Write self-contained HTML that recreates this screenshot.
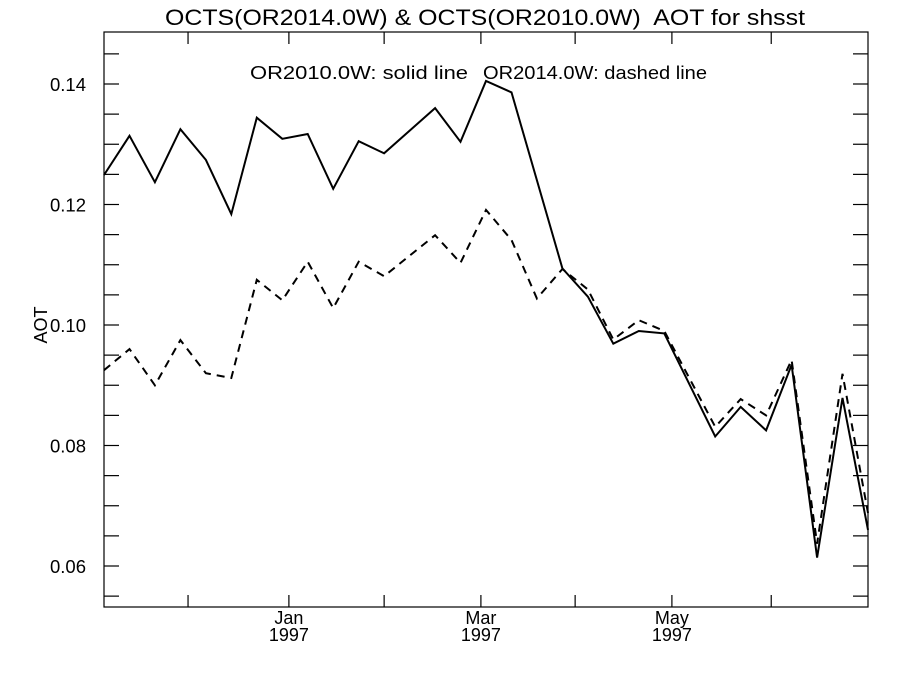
<!DOCTYPE html>
<html><head><meta charset="utf-8"><style>
body{margin:0;background:#fff;}
svg{display:block;font-family:"Liberation Sans",sans-serif;}
</style></head><body>
<svg id="chart" width="900" height="675">
<text x="165" y="25" font-size="22" textLength="640" lengthAdjust="spacingAndGlyphs" xml:space="preserve">OCTS(OR2014.0W) &amp; OCTS(OR2010.0W)  AOT for shsst</text>
<text x="250" y="79" font-size="18" textLength="218" lengthAdjust="spacingAndGlyphs">OR2010.0W: solid line</text>
<text x="483" y="79" font-size="18" textLength="224" lengthAdjust="spacingAndGlyphs">OR2014.0W: dashed line</text>
<text transform="translate(47,325) rotate(-90)" font-size="18" text-anchor="middle">AOT</text>
<rect x="104" y="32" width="764" height="575" fill="none" stroke="#000" stroke-width="1.2"/>
<g id="axes"></g><g id="series"></g>
</svg>
<script>
const solidIdx=[0,1,2,3,4,5,6,7,8,9,10,11,13,14,15,16,18,19,20,21,22,24,25,26,27,28,29,30];
const solidVals=[0.1249,0.1314,0.1237,0.1325,0.1274,0.1184,0.1344,0.1309,0.1317,0.1226,0.1305,0.1285,0.1360,0.1304,0.1405,0.1386,0.1094,0.1047,0.0969,0.0990,0.0986,0.0815,0.0864,0.0825,0.0934,0.0614,0.0879,0.0660];
const dashIdx=[0,1,2,3,4,5,6,7,8,9,10,11,13,14,15,16,17,18,19,20,21,22,24,25,26,27,28,29,30];
const dashVals=[0.0925,0.0960,0.0900,0.0975,0.0920,0.0912,0.1075,0.1041,0.1105,0.1028,0.1105,0.1081,0.1149,0.1103,0.1191,0.1141,0.1044,0.1093,0.1059,0.0976,0.1008,0.0990,0.0831,0.0877,0.0850,0.0942,0.0637,0.0919,0.0688];
const yTickVals=[0.06,0.08,0.10,0.12,0.14];
const yTickLabels=["0.06","0.08","0.10","0.12","0.14"];
const monthTicks=[3.3,7.26,11.0,14.8,18.5,22.3,26.2];
const monthLabels=["","Jan","","Mar","","May",""];
const yearLabels=["","1997","","1997","","1997",""];
const NS="http://www.w3.org/2000/svg";
const X=i=>104+i*(764/30);
const Y=v=>84+(0.14-v)/0.02*120.5;
const axes=document.getElementById('axes'),series=document.getElementById('series');
function mk(t,a,p){const e=document.createElementNS(NS,t);for(const k in a)e.setAttribute(k,a[k]);p.appendChild(e);return e;}
for(let v=0.055;v<=0.1451;v+=0.005){
  const y=Y(v);
  const l=mk('line',{x1:104,x2:119,y1:y,y2:y,stroke:'#000','stroke-width':1.2},axes);
  
  
  const r=mk('line',{x1:853,x2:868,y1:y,y2:y,stroke:'#000','stroke-width':1.2},axes);
  
  
}
yTickVals.forEach((v,i)=>{
  const t=mk('text',{x:86,y:Y(v)+7,'font-size':18.5,'text-anchor':'end'},axes);
  t.textContent=yTickLabels[i];
  
  
});
monthTicks.forEach((m,i)=>{
  const x=X(m);
  const b=mk('line',{x1:x,x2:x,y1:607,y2:595,stroke:'#000','stroke-width':1.2},axes);
  
  
  const tp=mk('line',{x1:x,x2:x,y1:32,y2:44,stroke:'#000','stroke-width':1.2},axes);
  
  
  if(monthLabels[i]){
    const t=mk('text',{x:x,y:624,'font-size':18,'text-anchor':'middle'},axes);
    t.textContent=monthLabels[i];
    
    
    const t2=mk('text',{x:x,y:641,'font-size':18,'text-anchor':'middle'},axes);
    t2.textContent=yearLabels[i];
    
    
  }
});
function line(idx,vals,dash,name){
  const d=idx.map((i,k)=>(k?'L':'M')+X(i).toFixed(1)+','+Y(vals[k]).toFixed(1)).join('');
  const p=mk('path',{d:d,fill:'none',stroke:'#000','stroke-width':2,'stroke-linejoin':'miter'},series);
  if(dash)p.setAttribute('stroke-dasharray','8,6');
  
  
}
line(dashIdx,dashVals,true,'or2014-dashed-line');
line(solidIdx,solidVals,false,'or2010-solid-line');
</script>
</body></html>
